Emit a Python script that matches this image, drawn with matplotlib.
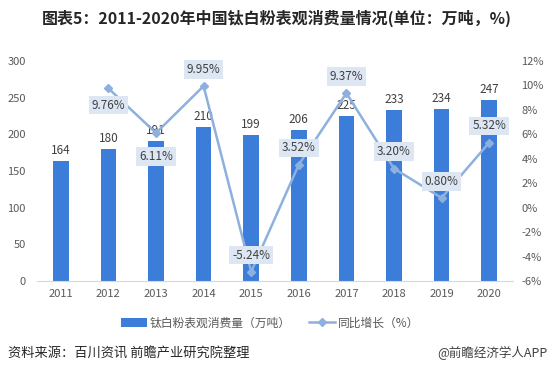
import matplotlib
matplotlib.use("Agg")
import matplotlib.pyplot as plt
import numpy as np

plt.rcParams['font.family'] = ['Noto Sans CJK SC', 'DejaVu Sans']

years = ["2011", "2012", "2013", "2014", "2015", "2016", "2017", "2018", "2019", "2020"]
consumption = [164, 180, 191, 210, 199, 206, 225, 233, 234, 247]
growth_years = ["2012", "2013", "2014", "2015", "2016", "2017", "2018", "2019", "2020"]
growth = [9.76, 6.11, 9.95, -5.24, 3.52, 9.37, 3.20, 0.80, 5.32]
growth_labels = ["9.76%", "6.11%", "9.95%", "-5.24%", "3.52%", "9.37%", "3.20%", "0.80%", "5.32%"]
label_offsets = [-12, -17, 12, 12, 12, 12, 12, 12, 12]

W, H = 554, 374
fig = plt.figure(figsize=(W / 100, H / 100), dpi=100)
ax = fig.add_axes([37 / W, 1 - 281 / H, (513 - 37) / W, (281 - 61) / H])
ax2 = ax.twinx()

bar_color = '#3b7dd8'
line_color = '#8db0de'
text_color = '#404040'
tick_color = '#595959'

x = np.arange(len(years))
ax.bar(x, consumption, width=0.33, color=bar_color, zorder=2)

ax.set_ylim(0, 300)
ax.set_yticks(range(0, 301, 50))
ax.set_xlim(-0.5, len(years) - 0.5)
ax.set_xticks(x)
ax.set_xticklabels(years)
for s in ['top', 'right', 'left']:
    ax.spines[s].set_visible(False)
ax.spines['bottom'].set_color('#d9d9d9')
ax.tick_params(axis='both', length=0, labelsize=8, colors=tick_color)
ax.tick_params(axis='x', pad=6)
ax.tick_params(axis='y', pad=8)

gx = [years.index(y) for y in growth_years]
ax2.plot(gx, growth, color=line_color, lw=1.8, marker='D', markersize=4.5,
         markerfacecolor=line_color, markeredgecolor=line_color, zorder=4)
ax2.set_ylim(-6, 12)
ax2.set_yticks(range(-6, 13, 2))
ax2.set_yticklabels([f"{t}%" for t in range(-6, 13, 2)])
for s in ['top', 'right', 'left', 'bottom']:
    ax2.spines[s].set_visible(False)
ax2.tick_params(axis='y', length=0, labelsize=8, colors=tick_color, pad=6)

trans = ax.transData
for xi, v in zip(x, consumption):
    ax2.annotate(str(v), (xi, v), xycoords=trans, xytext=(0, 3), textcoords='offset points',
                 ha='center', va='bottom', fontsize=8.5, color=text_color, zorder=3)

for xi, v, lab, off in zip(gx, growth, growth_labels, label_offsets):
    ax2.annotate(lab, (xi, v), xytext=(0, off), textcoords='offset points',
                 ha='center', va='center', fontsize=8.5, color=text_color, zorder=5,
                 bbox=dict(boxstyle='square,pad=0.25', facecolor='#dde7f4', edgecolor='none'))

ax.set_zorder(1)
ax2.set_zorder(2)
ax.patch.set_visible(False)

fig.text(0.5, 1 - 18 / H, "图表5：2011-2020年中国钛白粉表观消费量情况(单位：万吨，%)",
         ha='center', va='center', fontsize=11.5, fontweight='bold', color='#262626')

from matplotlib.patches import Patch
from matplotlib.lines import Line2D
handles = [Patch(facecolor=bar_color, edgecolor='none'),
           Line2D([0], [0], color=line_color, lw=1.8, marker='D', markersize=4.5)]
fig.legend(handles, ["钛白粉表观消费量（万吨）", "同比增长（%）"], loc='center',
           bbox_to_anchor=(270 / W, 1 - 323 / H), ncol=2, frameon=False, fontsize=8.5,
           labelcolor=tick_color, handlelength=2.2, handletextpad=0.2, columnspacing=1.6)

fig.text(8 / W, 1 - 353 / H, "资料来源：百川资讯 前瞻产业研究院整理", ha='left', va='center',
         fontsize=9.5, color='#262626')
fig.text(548 / W, 1 - 353 / H, "@前瞻经济学人APP", ha='right', va='center',
         fontsize=9, color='#404040')

fig.savefig("out.png", dpi=100)
